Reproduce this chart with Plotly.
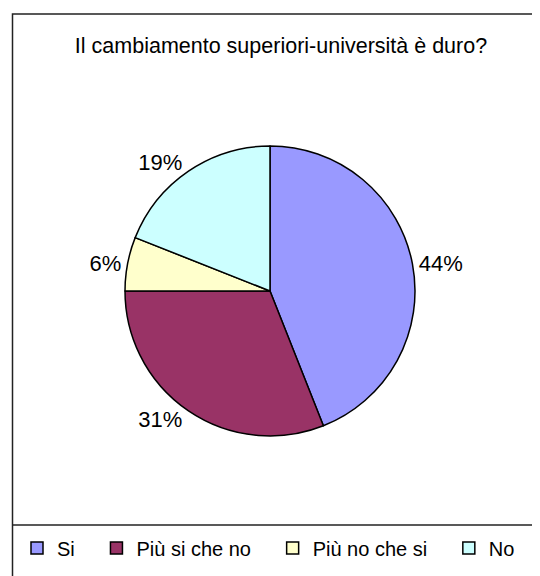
import plotly.graph_objects as go

title_text = "Il cambiamento superiori-università è duro?"
categories = ["Si", "Più si che no", "Più no che si", "No"]
values = [44, 31, 6, 19]
colors = ["#9999FF", "#993366", "#FFFFCC", "#CCFFFF"]

W, H = 540, 576
OFF = 8  # page body margin offset
FONT = "Liberation Sans, Arial, sans-serif"

legend_labels = [c + "\u00a0" * 3 for c in categories]

def px_x(x):
    return (x - OFF) / W

def px_y(y):
    return 1 - (y - OFF) / H

fig = go.Figure(go.Pie(
    labels=legend_labels,
    values=values,
    sort=False,
    direction="clockwise",
    rotation=0,
    marker=dict(colors=colors, line=dict(color="black", width=1.5)),
    textinfo="percent",
    textposition="outside",
    texttemplate="%{percent:.0%}",
    outsidetextfont=dict(family=FONT, size=22, color="black"),
    domain=dict(x=[px_x(125), px_x(415)], y=[px_y(436), px_y(146)]),
    hoverinfo="skip",
))

frame = dict(color="#222222", width=1.5)
fig.update_layout(
    width=W, height=H,
    margin=dict(l=0, r=0, t=0, b=0),
    paper_bgcolor="white",
    plot_bgcolor="white",
    font=dict(family=FONT, color="black"),
    title=dict(text=title_text, x=px_x(281), xanchor="center", y=px_y(45), yanchor="middle",
               yref="container", font=dict(family=FONT, size=21.5, color="black")),
    showlegend=True,
    legend=dict(orientation="h", x=px_x(17), xanchor="left", y=px_y(548), yanchor="middle",
                font=dict(family=FONT, size=20, color="black"),
                bgcolor="rgba(0,0,0,0)", itemclick=False, itemdoubleclick=False,
                traceorder="normal"),
    shapes=[
        dict(type="rect", xref="paper", yref="paper", x0=px_x(12.5), x1=1.05, y0=-0.05, y1=px_y(14),
             line=frame, fillcolor="rgba(0,0,0,0)", layer="below"),
        dict(type="line", xref="paper", yref="paper", x0=px_x(12.5), x1=1.05, y0=px_y(525), y1=px_y(525),
             line=frame, layer="below"),
    ],
)

fig.write_html("out.html")
